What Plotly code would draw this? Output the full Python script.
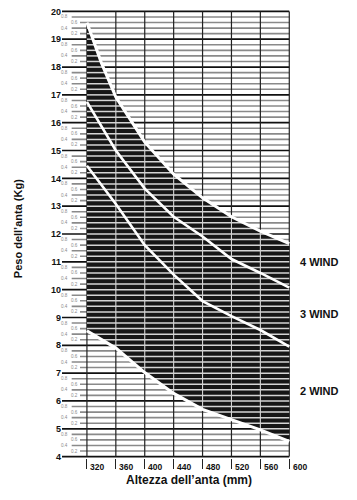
import numpy as np
import plotly.graph_objects as go

# ---------------- data ----------------
altezza = [320, 340, 360, 400, 440, 480, 520, 560, 600]          # mm
peso_max = [19.6, 18.15, 16.92, 15.3, 14.15, 13.3, 12.62, 12.1, 11.65]
peso_4wind = [16.75, 15.88, 15.0, 13.63, 12.62, 11.91, 11.1, 10.6, 10.07]
peso_3wind = [14.45, 13.77, 13.08, 11.6, 10.54, 9.59, 9.05, 8.55, 7.95]
peso_min = [8.52, 8.2, 7.9, 7.02, 6.27, 5.7, 5.32, 4.96, 4.55]

x_ticks = [320, 360, 400, 440, 480, 520, 560, 600]
y_ticks = list(range(4, 21))
minor_labels = ["0.2", "0.4", "0.6", "0.8"]
band_labels = ["4 WIND", "3 WIND", "2 WIND"]
band_label_y = [11.0, 9.12, 6.35]

FONT = "Liberation Sans"
X0, X1 = 285.5, 601
Y0, Y1 = 3.95, 20.05

grid_y = np.round(np.arange(4, 20.001, 0.2), 1)

# start of each horizontal line (left), depends on the label layout
def line_start(y):
    frac = round((y - np.floor(y + 1e-9)) * 10)
    if frac == 0:
        return X0
    if frac in (8, 4):
        return 298.9
    return 310.4

# dark grid (white region)
maj_x, maj_y, min_x, min_y = [], [], [], []
for y in grid_y:
    if abs(y - round(y)) < 1e-6:
        maj_x += [line_start(y), 600, None]
        maj_y += [y, y, None]
    else:
        min_x += [line_start(y), 600, None]
        min_y += [y, y, None]

vx, vy = [], []
for xv in x_ticks:
    top = 20 if xv != altezza[0] else peso_max[0]
    vx += [xv, xv, None]
    vy += [4, top, None]

# light grid inside the black band
xs = np.array(altezza, float)
lo = np.array(peso_min, float)
hi = np.array(peso_max, float)
lh_x, lh_y = [], []
for y in grid_y:
    a = max(320.0, float(np.interp(y, lo[::-1], xs[::-1])))
    b = min(600.0, float(np.interp(y, hi[::-1], xs[::-1])))
    if b - a > 0.5:
        lh_x += [a, b, None]
        lh_y += [y, y, None]
lv_x, lv_y = [], []
for xv in x_ticks[1:-1]:
    lv_x += [xv, xv, None]
    lv_y += [float(np.interp(xv, xs, lo)), float(np.interp(xv, xs, hi)), None]

fig = go.Figure()
fig.add_trace(go.Scatter(x=min_x, y=min_y, mode="lines",
                         line=dict(color="#8a8a8a", width=1.6), hoverinfo="skip"))
fig.add_trace(go.Scatter(x=maj_x, y=maj_y, mode="lines",
                         line=dict(color="#111111", width=1.7), hoverinfo="skip"))
fig.add_trace(go.Scatter(x=vx, y=vy, mode="lines",
                         line=dict(color="#222222", width=1.2), hoverinfo="skip"))
# black band
fig.add_trace(go.Scatter(x=altezza + altezza[::-1], y=peso_max + peso_min[::-1],
                         mode="lines", fill="toself", fillcolor="#161616",
                         line=dict(width=0), hoverinfo="skip"))
fig.add_trace(go.Scatter(x=lh_x, y=lh_y, mode="lines",
                         line=dict(color="#d4d4d4", width=1.5), hoverinfo="skip"))
fig.add_trace(go.Scatter(x=lv_x, y=lv_y, mode="lines",
                         line=dict(color="#d4d4d4", width=1.1), hoverinfo="skip"))
for arr, w in [(peso_max, 3), (peso_min, 3), (peso_4wind, 2.6), (peso_3wind, 2.6)]:
    fig.add_trace(go.Scatter(x=altezza, y=arr, mode="lines",
                             line=dict(color="white", width=w), hoverinfo="skip"))

ann = []
# minor tick labels
for k in range(4, 20):
    for lab in minor_labels:
        v = k + float(lab)
        xpos = 288.5 if lab in ("0.8", "0.4") else 302.4
        ann.append(dict(x=xpos, y=v, xref="x", yref="y", text=lab, showarrow=False,
                        font=dict(family=FONT, size=4.6, color="#8a8a8a"),
                        xanchor="center", yanchor="middle"))
# x tick labels
for xv in x_ticks:
    ann.append(dict(x=xv, y=0, xref="x", yref="paper", text=f"<b>{xv}</b>",
                    showarrow=False, xanchor="left", yanchor="top", xshift=1.5, yshift=-2,
                    font=dict(family=FONT, size=8.5, color="#111111")))
# band labels
for lab, yv in zip(band_labels, band_label_y):
    ann.append(dict(x=1.034, y=yv, xref="paper", yref="y", text=f"<b>{lab}</b>",
                    showarrow=False, xanchor="left", yanchor="middle",
                    font=dict(family=FONT, size=11, color="#111111")))
# axis titles
ann.append(dict(x=0.555, y=-0.048, xref="paper", yref="paper",
                text="<b>Altezza dell’anta (mm)</b>", showarrow=False,
                xanchor="center", yanchor="middle",
                font=dict(family=FONT, size=12, color="#111111")))
ann.append(dict(x=-0.193, y=0.513, xref="paper", yref="paper",
                text="<b>Peso dell’anta (Kg)</b>", showarrow=False, textangle=-90,
                xanchor="center", yanchor="middle",
                font=dict(family=FONT, size=11, color="#111111")))

fig.update_layout(
    width=357, height=500,
    margin=dict(l=62, r=67, t=7, b=42),
    paper_bgcolor="white", plot_bgcolor="white",
    showlegend=False,
    annotations=ann,
    xaxis=dict(range=[X0, X1], showgrid=False, zeroline=False, showline=False,
               tickvals=x_ticks, ticks="outside", ticklen=10, tickwidth=1.2,
               tickcolor="#222222", showticklabels=False, fixedrange=True),
    yaxis=dict(range=[Y0, Y1], showgrid=False, zeroline=False, showline=False,
               tickvals=y_ticks, ticktext=[f"<b>{v}</b>" for v in y_ticks],
               ticks="", tickfont=dict(family=FONT, size=9, color="#111111"),
               fixedrange=True),
)

fig.write_html("out.html", config={"displayModeBar": False},
               post_script="document.body.style.margin='0px';document.body.style.padding='0px';")
